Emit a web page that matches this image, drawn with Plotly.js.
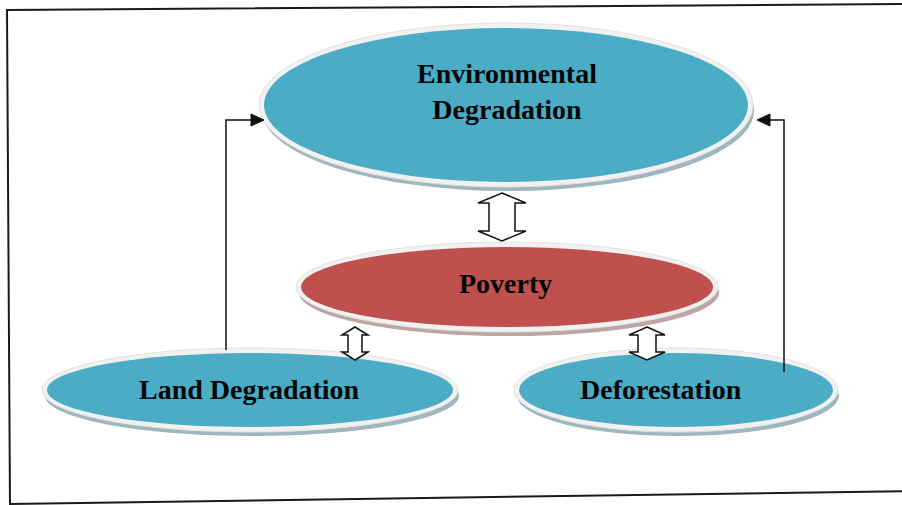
<!DOCTYPE html>
<html>
<head>
<meta charset="utf-8">
<script src="https://cdn.plot.ly/plotly-3.0.1.min.js"></script>
<style>html,body{margin:0;padding:0;background:#fff;}#chart{width:902px;height:505px;}</style>
</head>
<body>
<div id="chart"></div>
<script>
// ---- diagram content (data) ----
const nodeIds    = ["env", "pov", "land", "def"];
const nodeLabels = ["Environmental<br>Degradation", "Poverty", "Land Degradation", "Deforestation"];
const nodeKinds  = ["outcome", "core", "cause", "cause"];
// two-way links (hollow double arrows)
const twoWayFrom = ["env", "pov", "pov"];
const twoWayTo   = ["pov", "land", "def"];
// one-way links (elbow connectors)
const oneWayFrom = ["land", "def"];
const oneWayTo   = ["env", "env"];

// ---- geometry & style (not data) ----
const geom = {
  env:  {cx: 506, cy: 105, rx: 242, ry: 77},
  pov:  {cx: 507, cy: 287, rx: 206, ry: 40},
  land: {cx: 250, cy: 390, rx: 203, ry: 37},
  def:  {cx: 676, cy: 390, rx: 157, ry: 37}
};
const labelPos = {
  env:  {x: 507, y: 91},
  pov:  {x: 505, y: 283},
  land: {x: 249, y: 389},
  def:  {x: 661, y: 389}
};
const kindStyle = {
  outcome: {fill: "#4BACC6", shadow: "#8ea9b4"},
  core:    {fill: "#C0504D", shadow: "#b39494"},
  cause:   {fill: "#4BACC6", shadow: "#8ea9b4"}
};
const twoWayGeom = [
  {cx: 502, top: 193, bot: 241, hw: 24, sw: 13, hh: 10},
  {cx: 355, top: 327, bot: 360, hw: 13, sw: 7,  hh: 8},
  {cx: 647, top: 327, bot: 360, hw: 18, sw: 9,  hh: 8}
];
const oneWayGeom = [
  {x: 226, yStart: 350, yTurn: 120, xEnd: 264},
  {x: 784, yStart: 372, yTurn: 120, xEnd: 757}
];

const shapes = [];

// frame (slightly skewed scan border)
shapes.push({type: "path", xref: "x", yref: "y", path: "M 915 4 L 7 10 L 10 506",
  line: {color: "#1a1a1a", width: 2}, fillcolor: "rgba(0,0,0,0)"});
shapes.push({type: "path", xref: "x", yref: "y", path: "M 10 504 L 915 491",
  line: {color: "#1a1a1a", width: 2}, fillcolor: "rgba(0,0,0,0)"});

// ellipses
nodeIds.forEach((id, i) => {
  const g = geom[id], st = kindStyle[nodeKinds[i]];
  // shadow
  shapes.push({type: "circle", xref: "x", yref: "y",
    x0: g.cx - g.rx - 2, x1: g.cx + g.rx + 6, y0: g.cy - g.ry + 2, y1: g.cy + g.ry + 9,
    fillcolor: st.shadow, line: {width: 0}, opacity: 0.85});
  // light rim
  shapes.push({type: "circle", xref: "x", yref: "y",
    x0: g.cx - g.rx - 5, x1: g.cx + g.rx + 5, y0: g.cy - g.ry - 5, y1: g.cy + g.ry + 5,
    fillcolor: "#f1f1f1", line: {color: "#e2e2e2", width: 1}});
  // fill
  shapes.push({type: "circle", xref: "x", yref: "y",
    x0: g.cx - g.rx, x1: g.cx + g.rx, y0: g.cy - g.ry, y1: g.cy + g.ry,
    fillcolor: st.fill, line: {width: 0}});
});

// hollow double arrows
function dbl(a) {
  const {cx, top, bot, hw, sw, hh} = a;
  return `M ${cx} ${top} L ${cx + hw} ${top + hh} L ${cx + sw} ${top + hh} L ${cx + sw} ${bot - hh} ` +
         `L ${cx + hw} ${bot - hh} L ${cx} ${bot} L ${cx - hw} ${bot - hh} L ${cx - sw} ${bot - hh} ` +
         `L ${cx - sw} ${top + hh} L ${cx - hw} ${top + hh} Z`;
}
twoWayFrom.forEach((f, i) => {
  shapes.push({type: "path", xref: "x", yref: "y", path: dbl(twoWayGeom[i]),
    fillcolor: "#ffffff", line: {color: "#111111", width: 1.5}});
});

// elbow connectors with filled heads
oneWayFrom.forEach((f, i) => {
  const g = oneWayGeom[i];
  const dir = g.xEnd > g.x ? 1 : -1;
  const hb = g.xEnd - dir * 13;
  shapes.push({type: "path", xref: "x", yref: "y",
    path: `M ${g.x} ${g.yStart} L ${g.x} ${g.yTurn} L ${hb} ${g.yTurn}`,
    line: {color: "#111111", width: 1.5}, fillcolor: "rgba(0,0,0,0)"});
  shapes.push({type: "path", xref: "x", yref: "y",
    path: `M ${hb} ${g.yTurn - 6} L ${g.xEnd} ${g.yTurn} L ${hb} ${g.yTurn + 6} Z`,
    line: {color: "#111111", width: 1}, fillcolor: "#111111"});
});

const annotations = nodeIds.map((id, i) => ({
  x: labelPos[id].x, y: labelPos[id].y, xref: "x", yref: "y",
  text: "<b>" + nodeLabels[i] + "</b>", showarrow: false,
  xanchor: "center", yanchor: "middle",
  font: {family: "Liberation Serif, Times New Roman, serif", size: 28, color: "#050505"}
}));

const layout = {
  width: 902, height: 505,
  margin: {l: 0, r: 0, t: 0, b: 0},
  paper_bgcolor: "#ffffff", plot_bgcolor: "#ffffff",
  xaxis: {range: [0, 902], visible: false, fixedrange: true},
  yaxis: {range: [505, 0], visible: false, fixedrange: true},
  showlegend: false,
  shapes: shapes,
  annotations: annotations
};

Plotly.newPlot("chart", [{x: [], y: [], type: "scatter", mode: "markers", hoverinfo: "skip"}], layout,
  {staticPlot: true, displayModeBar: false});
</script>
</body>
</html>
